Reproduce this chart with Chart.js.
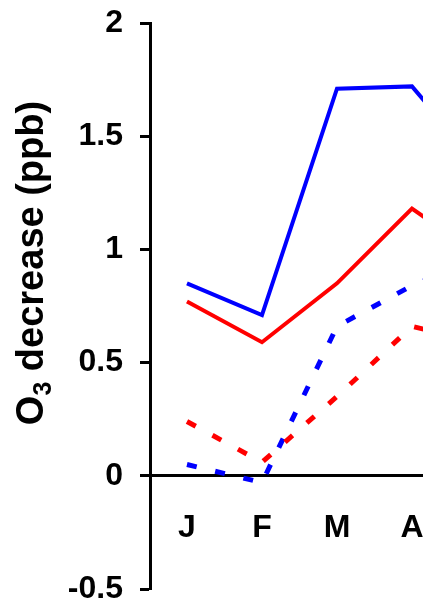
<!DOCTYPE html>
<html>
<head>
<meta charset="utf-8">
<script src="https://cdn.jsdelivr.net/npm/chart.js@4"></script>
<style>
  html, body { margin: 0; padding: 0; background: #fff; overflow: hidden; }
  #wrap { width: 423px; height: 606px; position: relative; }
</style>
</head>
<body>
<div id="wrap"><canvas id="chart"></canvas></div>
<script>
// months along the x axis (the figure is cut off after April)
const months = ['J', 'F', 'M', 'A', 'M'];
const blueSolid = [0.85, 0.71, 1.71, 1.72, 1.33];
const redSolid = [0.77, 0.59, 0.85, 1.18, 0.95];
const blueDashed = [0.05, -0.03, 0.66, 0.84, 0.97];
const redDashed = [0.24, 0.06, 0.35, 0.66, 0.58];
const yTicks = [-0.5, 0, 0.5, 1, 1.5, 2];
const shownMonths = [0, 1, 2, 3];

const FONT = 'Liberation Sans';

function points(values) {
  return values.map((v, i) => ({ x: i, y: v }));
}

function line(values, color, dashed) {
  return {
    data: points(values),
    borderColor: color,
    borderWidth: dashed ? 5 : 4,
    borderDash: dashed ? [10, 19] : [],
    borderCapStyle: 'butt',
    pointRadius: 0,
    tension: 0,
    fill: false,
    clip: 0
  };
}

// y axis title drawn by hand so the 3 can be a subscript
const sideTitle = {
  id: 'sideTitle',
  afterDraw(chart) {
    const ctx = chart.ctx;
    ctx.save();
    ctx.translate(33, 263);
    ctx.rotate(-Math.PI / 2);
    ctx.fillStyle = '#000';
    ctx.textBaseline = 'alphabetic';
    ctx.textAlign = 'left';
    const big = 'bold 38px "' + FONT + '"';
    const small = 'bold 25px "' + FONT + '"';
    ctx.font = big;
    const wO = ctx.measureText('O').width;
    const rest = ' decrease (ppb)';
    const wRest = ctx.measureText(rest).width;
    ctx.font = small;
    const w3 = ctx.measureText('3').width;
    let x = -(wO + w3 + wRest) / 2;
    const base = 10;
    ctx.font = big;
    ctx.fillText('O', x, base);
    x += wO;
    ctx.font = small;
    ctx.fillText('3', x, base + 8);
    x += w3;
    ctx.font = big;
    ctx.fillText(rest, x, base);
    ctx.restore();
  }
};

new Chart(document.getElementById('chart'), {
  type: 'line',
  data: {
    datasets: [
      line(redDashed, '#ff0000', true),
      line(blueDashed, '#0000ff', true),
      line(redSolid, '#ff0000', false),
      line(blueSolid, '#0000ff', false)
    ]
  },
  options: {
    responsive: true,
    maintainAspectRatio: false,
    animation: false,
    layout: { padding: { top: 23, bottom: 17, left: 0, right: 0 } },
    plugins: {
      legend: { display: false },
      tooltip: { enabled: false }
    },
    scales: {
      x: {
        type: 'linear',
        position: { y: 0 },
        min: -0.493,
        max: 3.147,
        afterBuildTicks: scale => {
          scale.ticks = shownMonths.map(v => ({ value: v }));
        },
        afterFit: scale => {
          scale.paddingLeft = 0;
          scale.paddingRight = 0;
        },
        grid: { display: false, drawTicks: false },
        border: { display: true, color: '#000', width: 3 },
        ticks: {
          padding: 33,
          color: '#000',
          maxRotation: 0,
          font: { family: FONT, size: 32, weight: 'bold' },
          callback: value => months[value]
        }
      },
      y: {
        min: -0.5,
        max: 2,
        afterFit: scale => {
          scale.width = 150;
          scale.paddingTop = 0;
          scale.paddingBottom = 0;
        },
        afterBuildTicks: scale => {
          scale.ticks = yTicks.map(v => ({ value: v }));
        },
        grid: {
          drawOnChartArea: false,
          drawTicks: true,
          tickLength: 10,
          tickWidth: 3,
          tickColor: '#000'
        },
        border: { display: true, color: '#000', width: 3 },
        ticks: {
          padding: 17,
          color: '#000',
          font: { family: FONT, size: 32, weight: 'bold' },
          callback: value => String(value)
        }
      }
    }
  },
  plugins: [sideTitle]
});
</script>
</body>
</html>
